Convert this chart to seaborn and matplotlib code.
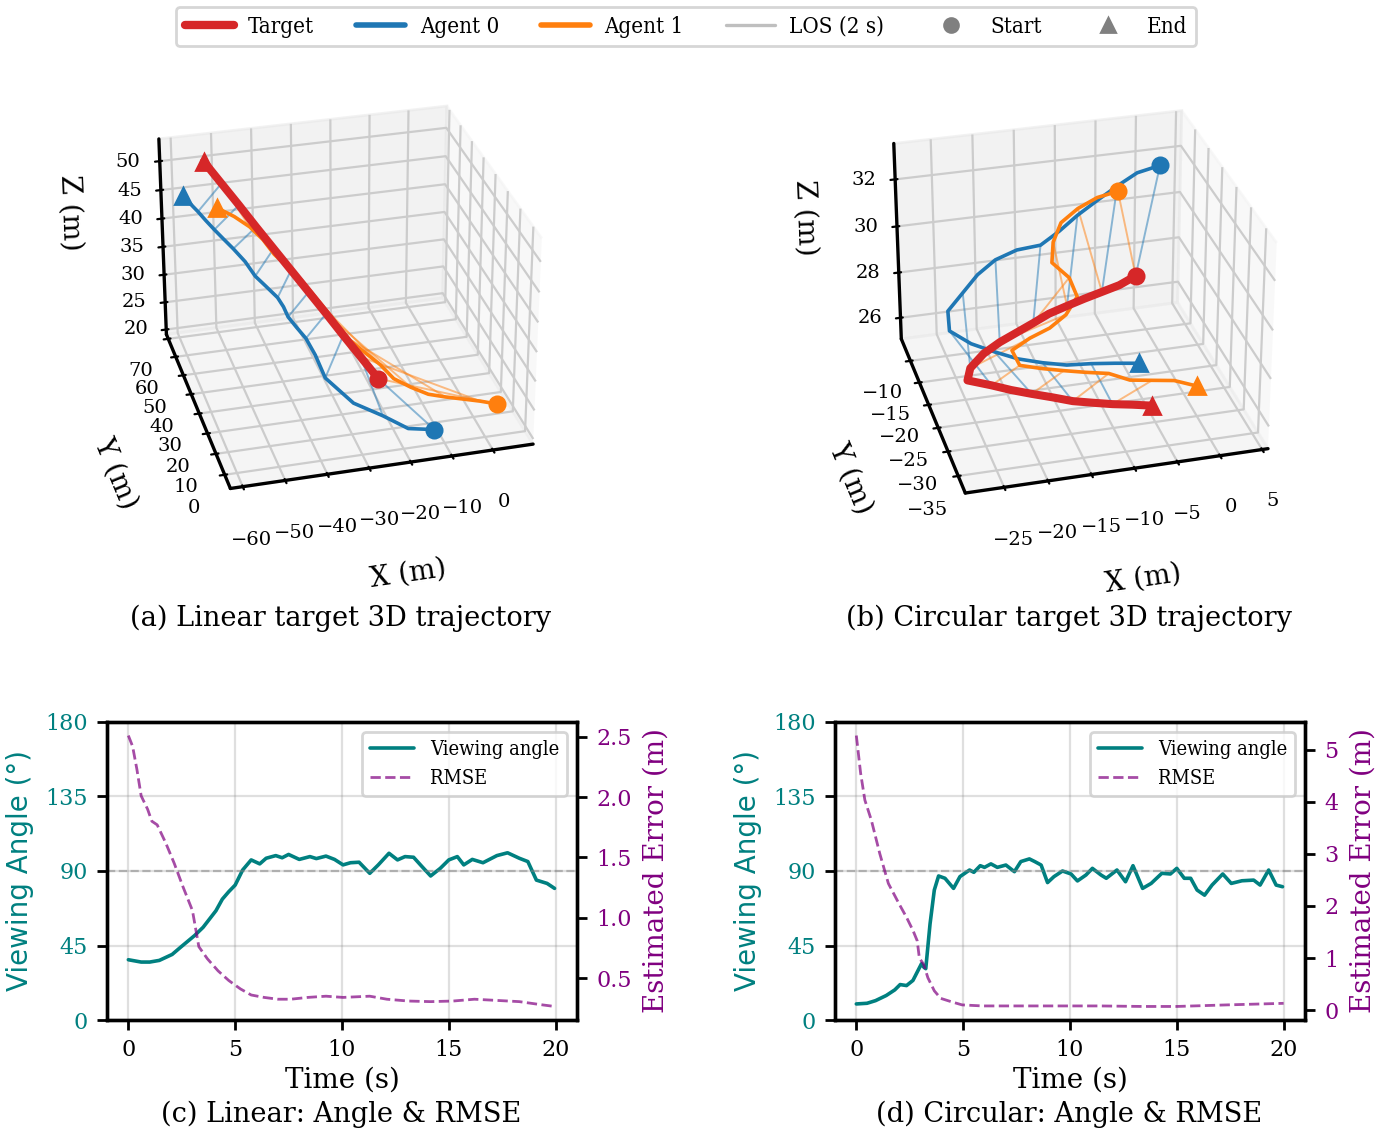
import matplotlib
matplotlib.use("Agg")
import matplotlib.pyplot as plt
from matplotlib.lines import Line2D
import seaborn as sns

# ---------------- 3D trajectories ----------------
traj_t = list(range(21))            # agents sampled every 1 s
lin_tgt_t = list(range(0, 21, 2))   # linear target sampled every 2 s

lin_tgt_x = [-17.8, -21.3, -24.8, -28.2, -31.7, -35.2, -38.7, -42.2, -45.6, -49.1, -52.6]
lin_tgt_y = [32.5, 36.2, 39.8, 43.5, 47.2, 50.9, 54.5, 58.2, 61.9, 65.5, 69.2]
lin_tgt_z = [20, 23, 26, 29, 32, 35, 38, 41, 44, 47, 50]

lin_a0_x = [-11.3, -18.0, -23.2, -29.3, -33.8, -34.4, -35.6, -37.4, -39.1, -39.9, -41.1,
            -43.4, -45.6, -47.1, -49.2, -51.2, -53.0, -54.7, -56.2, -57.8, -59.2]
lin_a0_y = [4.4, 3.5, 7.4, 11.5, 21.3, 29.0, 33.7, 35.2, 37.4, 38.8, 39.8,
            42.3, 44.1, 48.5, 52.2, 54.2, 56.0, 57.8, 59.7, 61.2, 62.8]
lin_a0_z = [20, 21.2, 22.6, 24, 25.5, 27, 28.5, 30, 31.4, 32.8, 34.2,
            35.6, 37, 38.3, 39.6, 40.9, 42.1, 43.3, 44.4, 45.5, 46.5]

lin_a1_x = [6.5, 4.8, 2.2, -2.5, -7.3, -12.0, -16.2, -20.1, -22.5, -25.5, -28.4,
            -30.2, -32.0, -33.9, -35.7, -38.0, -40.4, -42.0, -44.3, -47.4, -51.0]
lin_a1_y = [12.0, 12.1, 12.0, 11.0, 9.4, 7.8, 8.2, 9.3, 12.7, 15.7, 18.6,
            23.3, 27.9, 32.5, 37.2, 41.6, 46.1, 51.4, 55.8, 59.0, 61.7]
lin_a1_z = [20, 20.4, 21.0, 22.2, 23.6, 25.1, 26.6, 28.1, 29.6, 31.0, 32.4,
            33.7, 35.0, 36.3, 37.5, 38.6, 39.7, 40.8, 41.9, 43.0, 44.0]

circ_tgt_x = [-2.2, -4.4, -6.7, -9.0, -11.3, -13.7, -15.9, -18.2, -20.5, -22.8, -24.8,
              -25.5, -22.8, -20.7, -18.5, -16.3, -14.1, -11.9, -9.6, -7.3, -5.0]
circ_tgt_y = [-12.6, -13.2, -13.7, -14.2, -14.8, -15.5, -16.6, -17.7, -18.8, -20.3, -22.0,
              -23.5, -24.0, -24.8, -25.7, -26.5, -27.4, -27.8, -28.2, -28.4, -28.7]
circ_tgt_z = [28.0, 27.8, 27.7, 27.6, 27.5, 27.4, 27.3, 27.2, 27.1, 27.0, 26.8,
              26.6, 26.35, 26.2, 26.1, 26.0, 25.9, 25.8, 25.7, 25.6, 25.5]

circ_a0_x = [0.8, -1.8, -4.3, -6.6, -8.9, -11.1, -13.4, -16.0, -18.5, -20.9, -23.1,
             -25.3, -25.8, -23.8, -21.5, -19.1, -16.6, -13.9, -11.1, -8.4, -5.7]
circ_a0_y = [-12.0, -11.4, -11.7, -11.2, -10.8, -10.7, -10.7, -9.5, -9.0, -9.8, -11.4,
             -13.0, -15.9, -18.3, -20.2, -21.9, -23.4, -24.1, -24.5, -25.1, -25.8]
circ_a0_z = [32.5, 32.2, 31.8, 31.2, 30.6, 30.0, 29.5, 29.2, 28.8, 28.4, 28.0,
             27.6, 27.3, 27.1, 27.0, 26.9, 26.9, 26.8, 26.8, 26.8, 26.8]

circ_a1_x = [-4.1, -6.4, -8.7, -10.8, -12.2, -12.9, -11.3, -11.0, -12.8, -15.0, -17.4,
             -19.7, -19.4, -16.9, -14.4, -11.9, -9.3, -7.2, -4.6, -2.0, 0.2]
circ_a1_y = [-11.3, -10.5, -10.3, -10.4, -12.0, -14.0, -15.8, -18.2, -19.8, -20.7, -20.8,
             -21.4, -23.8, -24.1, -24.7, -25.2, -25.6, -27.1, -27.3, -27.5, -29.3]
circ_a1_z = [31.5, 31.2, 30.8, 30.3, 29.8, 29.3, 28.9, 28.5, 28.1, 27.8, 27.5,
             27.2, 27.0, 26.8, 26.7, 26.6, 26.5, 26.4, 26.3, 26.2, 26.2]

# ---------------- viewing angle / RMSE series ----------------
c_ang_t = [0, 0.6, 1.0, 1.45, 2.05, 2.45, 3.1, 3.5, 4.1, 4.4, 4.7, 5.0, 5.35, 5.75, 6.15, 6.45,
           6.9, 7.2, 7.5, 8.0, 8.5, 8.8, 9.25, 9.65, 10.05, 10.4, 10.8, 11.3, 11.7, 12.2, 12.6,
           12.95, 13.35, 13.75, 14.15, 14.6, 15.0, 15.4, 15.7, 16.1, 16.6, 17.25, 17.75, 18.3,
           18.7, 19.1, 19.6, 19.95]
c_ang = [36.4, 35, 35, 36, 39.6, 44, 51, 56, 66, 73, 77.5, 81.5, 90.6, 96.7, 94.3, 97.7,
         99.3, 98, 100, 97, 98.7, 97.5, 99, 97, 93.7, 95, 95.3, 88.6, 93.7, 100.7, 96.7,
         98.7, 98.3, 92.6, 87, 91.6, 96.7, 98.7, 93.7, 97, 95, 99.3, 101, 97.7,
         95.7, 84.5, 82.5, 79.5]
c_err_t = [0, 0.2, 0.4, 0.6, 0.9, 1.1, 1.35, 1.75, 2.15, 2.55, 3.0, 3.3, 3.7, 4.2, 4.7, 5.25,
           5.75, 6.35, 7.0, 7.6, 8.4, 9.25, 10.05, 11.3, 12.1, 13.1, 14.15, 15.2, 16.2, 17.25,
           18.3, 19.3, 19.95]
c_err = [2.51, 2.42, 2.23, 2.01, 1.90, 1.80, 1.77, 1.62, 1.45, 1.26, 1.06, 0.76, 0.66, 0.56,
         0.48, 0.41, 0.36, 0.34, 0.325, 0.325, 0.34, 0.35, 0.34, 0.35, 0.325, 0.31, 0.305,
         0.31, 0.325, 0.315, 0.305, 0.28, 0.265]

d_ang_t = [0, 0.5, 0.9, 1.4, 1.8, 2.05, 2.35, 2.65, 3.05, 3.15, 3.25, 3.45, 3.65, 3.85, 4.15,
           4.55, 4.85, 5.3, 5.5, 5.8, 6.0, 6.3, 6.6, 7.0, 7.4, 7.7, 8.1, 8.35, 8.65, 8.95,
           9.25, 9.65, 10.05, 10.35, 10.75, 11.05, 11.45, 11.7, 12.2, 12.6, 12.95, 13.4, 13.8,
           14.3, 14.7, 15.0, 15.35, 15.65, 15.95, 16.3, 16.65, 17.15, 17.55, 18.05, 18.6,
           18.9, 19.3, 19.65, 19.95]
d_ang = [9.7, 10.1, 11.7, 14.8, 18.2, 21.4, 20.8, 23.9, 34, 32, 31, 58, 78.5, 87, 85.6,
         79.5, 86.6, 90.6, 89.2, 93.2, 92.2, 94.3, 92.2, 93.6, 89.6, 95.7, 97.3, 95.7, 93.6, 83,
         86.6, 90, 88.2, 84, 87.6, 91.6, 87.6, 85.6, 90.6, 83.5, 93.2, 79.5, 82.5,
         88.6, 88.2, 91.6, 85.6, 85.6, 78.5, 75.4, 81.5, 88.2, 82.5, 84.1, 84.5,
         81.5, 90.6, 81.5, 80.5]
d_err_t = [0, 0.2, 0.4, 0.7, 1.1, 1.5, 2.0, 2.35, 2.65, 2.85, 2.95, 3.15, 3.35, 3.65, 3.95,
           4.45, 4.95, 5.9, 7.5, 9.45, 11.4, 13.4, 15.0, 17.35, 20.0]
d_err = [5.27, 4.55, 4.03, 3.65, 3.0, 2.43, 2.04, 1.78, 1.53, 1.33, 1.0, 0.88, 0.62, 0.37,
         0.225, 0.16, 0.1, 0.08, 0.08, 0.08, 0.08, 0.07, 0.07, 0.1, 0.13]

C_TGT, C_A0, C_A1 = "#d62728", "#1f77b4", "#ff7f0e"
TEAL, PURPLE = "teal", "purple"

sns.set_style("ticks")
plt.rcParams["font.family"] = ["DejaVu Serif"]
plt.rcParams["axes.linewidth"] = 1.2
for k in ("text.color", "axes.labelcolor", "xtick.color", "ytick.color", "axes.edgecolor"):
    plt.rcParams[k] = "black"

LEG_FONT = {"family": "DejaVu Serif", "stretch": "condensed"}

fig = plt.figure(figsize=(6.92, 5.685), dpi=200)


def draw_3d(ax, tgt, tgt_t, a0, a1, lims, ticks):
    ax.computed_zorder = False
    # line-of-sight segments every 2 s
    for col, ag in ((C_A0, a0), (C_A1, a1)):
        for tt in range(0, 20, 2):
            i = traj_t.index(tt)
            j = tgt_t.index(tt)
            ax.plot([ag[0][i], tgt[0][j]], [ag[1][i], tgt[1][j]], [ag[2][i], tgt[2][j]],
                    color=col, lw=0.7, alpha=0.5)
    ax.plot(a0[0], a0[1], a0[2], color=C_A0, lw=1.3)
    ax.plot(a1[0], a1[1], a1[2], color=C_A1, lw=1.3)
    ax.plot(tgt[0], tgt[1], tgt[2], color=C_TGT, lw=2.9)
    for col, tr in ((C_A0, a0), (C_A1, a1), (C_TGT, tgt)):
        ax.plot([tr[0][0]], [tr[1][0]], [tr[2][0]], "o", color=col, ms=5.5)
        ax.plot([tr[0][-1]], [tr[1][-1]], [tr[2][-1]], "^", color=col, ms=5.5)
    ax.set_xlim(*lims[0])
    ax.set_ylim(*lims[1])
    ax.set_zlim(*lims[2])
    ax.set_xticks(ticks[0])
    ax.set_yticks(ticks[1])
    ax.set_zticks(ticks[2])
    ax.tick_params(labelsize=7)
    ax.xaxis.set_tick_params(pad=2.5)
    ax.yaxis.set_tick_params(pad=1)
    ax.zaxis.set_tick_params(pad=0)
    ax.set_xlabel("X (m)", fontsize=10, labelpad=5)
    ax.set_ylabel("Y (m)", fontsize=10, labelpad=4)
    ax.set_zlabel("Z (m)", fontsize=10, labelpad=3)
    ax.view_init(elev=29, azim=-105)


ax_a = fig.add_axes([0.0718, 0.531, 0.343, 0.418], projection="3d")
draw_3d(ax_a, (lin_tgt_x, lin_tgt_y, lin_tgt_z), lin_tgt_t,
        (lin_a0_x, lin_a0_y, lin_a0_z), (lin_a1_x, lin_a1_y, lin_a1_z),
        ((-62.9, 9.9), (-6.4, 72.5), (19.1, 53.8)),
        (range(-60, 1, 10), range(0, 71, 10), range(20, 51, 5)))

ax_b = fig.add_axes([0.6028, 0.527, 0.343, 0.418], projection="3d")
draw_3d(ax_b, (circ_tgt_x, circ_tgt_y, circ_tgt_z), traj_t,
        (circ_a0_x, circ_a0_y, circ_a0_z), (circ_a1_x, circ_a1_y, circ_a1_z),
        ((-29.4, 5.7), (-38.4, -4.8), (25.05, 33.5)),
        (range(-25, 6, 5), range(-35, -9, 5), range(26, 33, 2)))


def draw_series(ax, at, ang, et, err):
    sns.lineplot(x=at, y=ang, ax=ax, color=TEAL, lw=1.3)
    ax.axhline(90, color="gray", ls="--", lw=0.8, alpha=0.5)
    ax.set_ylim(0, 180)
    ax.set_yticks([0, 45, 90, 135, 180])
    ax.set_xticks([0, 5, 10, 15, 20])
    ax.set_xlim(-1, 21)
    ax.grid(True, color="gray", alpha=0.25, lw=0.8)
    ax.tick_params(labelsize=8, length=3.5, width=1, colors="black")
    ax.tick_params(axis="y", labelcolor=TEAL)
    ax.set_xlabel("Time (s)", fontsize=10, labelpad=2)
    ax.set_ylabel("Viewing Angle (°)", fontsize=10, color=TEAL, family="DejaVu Sans")
    ax2 = ax.twinx()
    sns.lineplot(x=et, y=err, ax=ax2, color=PURPLE, lw=1.0, alpha=0.7, linestyle="--")
    ax2.margins(y=0.05)
    ax2.tick_params(labelsize=8, length=3.5, width=1, colors="black")
    ax2.tick_params(axis="y", labelcolor=PURPLE)
    ax2.set_ylabel("Estimated Error (m)", fontsize=10, color=PURPLE)
    for a in (ax, ax2):
        for s in a.spines.values():
            s.set_visible(True)
            s.set_color("black")
    handles = [Line2D([], [], color=TEAL, lw=1.3),
               Line2D([], [], color=PURPLE, lw=1.0, alpha=0.7, ls="--")]
    ax2.legend(handles, ["Viewing angle", "RMSE"], loc="upper right",
               prop=dict(LEG_FONT, size=7.2), frameon=True, fancybox=True,
               edgecolor="0.8", handlelength=2.2)
    return ax2


ax_c = fig.add_axes([0.0773, 0.1029, 0.3396, 0.2621])
draw_series(ax_c, c_ang_t, c_ang, c_err_t, c_err)
ax_d = fig.add_axes([0.6033, 0.1029, 0.3396, 0.2621])
ax_d2 = draw_series(ax_d, d_ang_t, d_ang, d_err_t, d_err)
ax_d2.set_yticks([0, 1, 2, 3, 4, 5])

fig.text(0.2464, 1 - 618 / 1137, "(a) Linear target 3D trajectory", ha="center", va="center", fontsize=9.8)
fig.text(0.7724, 1 - 618 / 1137, "(b) Circular target 3D trajectory", ha="center", va="center", fontsize=9.8)
fig.text(0.2464, 1 - 1114 / 1137, "(c) Linear: Angle & RMSE", ha="center", va="center", fontsize=9.8)
fig.text(0.7724, 1 - 1114 / 1137, "(d) Circular: Angle & RMSE", ha="center", va="center", fontsize=9.8)

legend_handles = [
    Line2D([], [], color=C_TGT, lw=3),
    Line2D([], [], color=C_A0, lw=2),
    Line2D([], [], color=C_A1, lw=2),
    Line2D([], [], color="0.75", lw=1.2),
    Line2D([], [], color="gray", marker="o", ls="none", ms=5),
    Line2D([], [], color="gray", marker="^", ls="none", ms=5),
]
fig.legend(legend_handles, ["Target", "Agent 0", "Agent 1", "LOS (2 s)", "Start", "End"],
           loc="upper center", bbox_to_anchor=(0.4957, 1.0), ncol=6,
           prop=dict(LEG_FONT, size=8), frameon=True, fancybox=True, edgecolor="0.8",
           handlelength=2.2, handletextpad=0.65, columnspacing=1.9, borderaxespad=0.3)

fig.savefig("out.png", dpi=200)
